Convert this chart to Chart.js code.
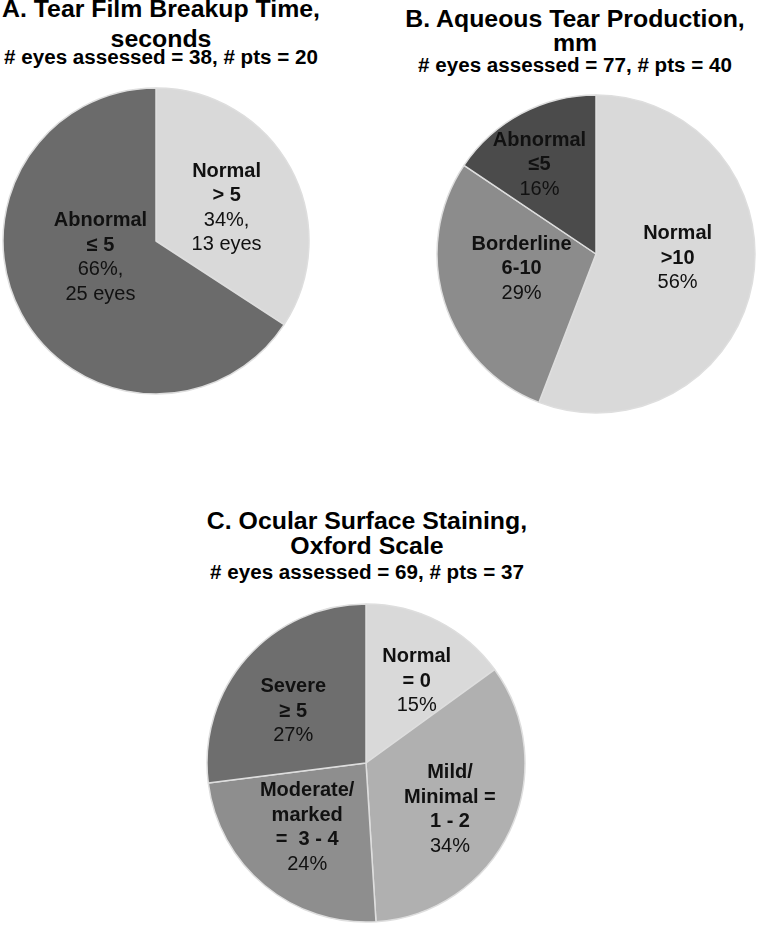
<!DOCTYPE html>
<html>
<head>
<meta charset="utf-8">
<script src="https://cdn.jsdelivr.net/npm/chart.js@4.4.0/dist/chart.umd.min.js"></script>
<style>
    body { margin: 0; background: #fff; width: 758px; height: 926px; position: relative; overflow: hidden;
           font-family: "Liberation Sans", Arial, sans-serif; }
    .t { position: absolute; width: 440px; text-align: center; font-weight: bold; color: #000; white-space: nowrap;
         transform-origin: 50% 50%; }
    .big { font-size: 23px; line-height: 23px; transform: scaleX(1.08); }
    .sub { font-size: 20px; line-height: 20px; transform: scaleX(1.03); }
    canvas { position: absolute; }
</style>
</head>
<body>
<div class="t big" style="left:-59px; top:-2px">A. Tear Film Breakup Time,</div>
<div class="t big" style="left:-59px; top:28px">seconds</div>
<div class="t sub" style="left:-59px; top:47px"># eyes assessed = 38, # pts = 20</div>

<div class="t big" style="left:355px; top:8px">B. Aqueous Tear Production,</div>
<div class="t big" style="left:355px; top:32px">mm</div>
<div class="t sub" style="left:355px; top:55px"># eyes assessed = 77, # pts = 40</div>

<div class="t big" style="left:147px; top:510px">C. Ocular Surface Staining,</div>
<div class="t big" style="left:147px; top:535px">Oxford Scale</div>
<div class="t sub" style="left:147px; top:562px"># eyes assessed = 69, # pts = 37</div>

<canvas id="pieA" width="310" height="310" style="left:1px; top:86px"></canvas>
<canvas id="pieB" width="322" height="322" style="left:435px; top:93px"></canvas>
<canvas id="pieC" width="322" height="322" style="left:205px; top:602px"></canvas>

<script>
// A. tear film breakup time (eyes)
let catsA = [["Normal", "> 5"], ["Abnormal", "≤ 5"]]
let eyesA = [13, 25]

// B. aqueous tear production (eyes)
let catsB = [["Normal", ">10"], ["Borderline", "6-10"], ["Abnormal", "≤5"]]
let eyesB = [43, 22, 12]

// C. ocular surface staining (percent)
let catsC = [["Normal", "= 0"], ["Mild/", "Minimal =", "1 - 2"], ["Moderate/", "marked", "=  3 - 4"], ["Severe", "≥ 5"]]
let pctC = [15, 34, 24, 27]

Chart.defaults.font.family = '"Liberation Sans", Arial, sans-serif'

function pct(v, arr) {
    let sum = arr.reduce((a, b) => a + b, 0)
    return Math.round(v / sum * 100) + "%"
}

// draws the multi line text inside each slice
function sliceText(cats, extra, place) {
    return {
        id: 'sliceText',
        afterDatasetsDraw(chart) {
            let ctx = chart.ctx
            let arcs = chart.getDatasetMeta(0).data
            ctx.save()
            ctx.fillStyle = '#111'
            ctx.textAlign = 'center'
            ctx.textBaseline = 'middle'
            arcs.forEach(function (arc, i) {
                let p = arc.getProps(['x', 'y', 'startAngle', 'endAngle', 'outerRadius'], true)
                let mid = (p.startAngle + p.endAngle) / 2
                let d = place[i][0]
                let x = p.x + Math.cos(mid) * d + place[i][1]
                let y = p.y + Math.sin(mid) * d + place[i][2]
                let bold = cats[i]
                let plain = extra(i)
                let n = bold.length + plain.length
                let lh = 24.5
                let y0 = y - (n - 1) * lh / 2
                bold.forEach(function (s, k) {
                    ctx.font = 'bold 20px "Liberation Sans", Arial, sans-serif'
                    ctx.fillText(s, x, y0 + k * lh)
                })
                plain.forEach(function (s, k) {
                    ctx.font = '20px "Liberation Sans", Arial, sans-serif'
                    ctx.fillText(s, x, y0 + (bold.length + k) * lh)
                })
            })
            ctx.restore()
        }
    }
}

function makePie(id, cats, values, colors, radius, extra, place) {
    return new Chart(document.getElementById(id), {
        type: 'pie',
        data: {
            labels: cats.map(c => c.join(' ')),
            datasets: [{
                data: values,
                backgroundColor: colors,
                borderColor: '#dedede',
                borderWidth: 1.5
            }]
        },
        options: {
            responsive: false,
            animation: false,
            devicePixelRatio: 1,
            radius: radius,
            layout: { padding: 0 },
            plugins: { legend: { display: false }, tooltip: { enabled: false } }
        },
        plugins: [sliceText(cats, extra, place)]
    })
}

makePie('pieA', catsA, eyesA, ['#d9d9d9', '#6b6b6b'], 153,
    i => [pct(eyesA[i], eyesA) + ",", eyesA[i] + " eyes"],
    [[78, 2, 4], [62, -1, -13]])

makePie('pieB', catsB, eyesB, ['#d9d9d9', '#8c8c8c', '#4b4b4b'], 159,
    i => [pct(eyesB[i], eyesB)],
    [[83, 0, -11], [78, 0, -9], [101, -9, 0]])

makePie('pieC', catsC, pctC, ['#d9d9d9', '#b0b0b0', '#8e8e8e', '#6e6e6e'], 159,
    i => [pctC[i] + "%"],
    [[94, 8, 2], [95, -2, 6], [86, -4, -2], [89, -6, 7]])
</script>
</body>
</html>
